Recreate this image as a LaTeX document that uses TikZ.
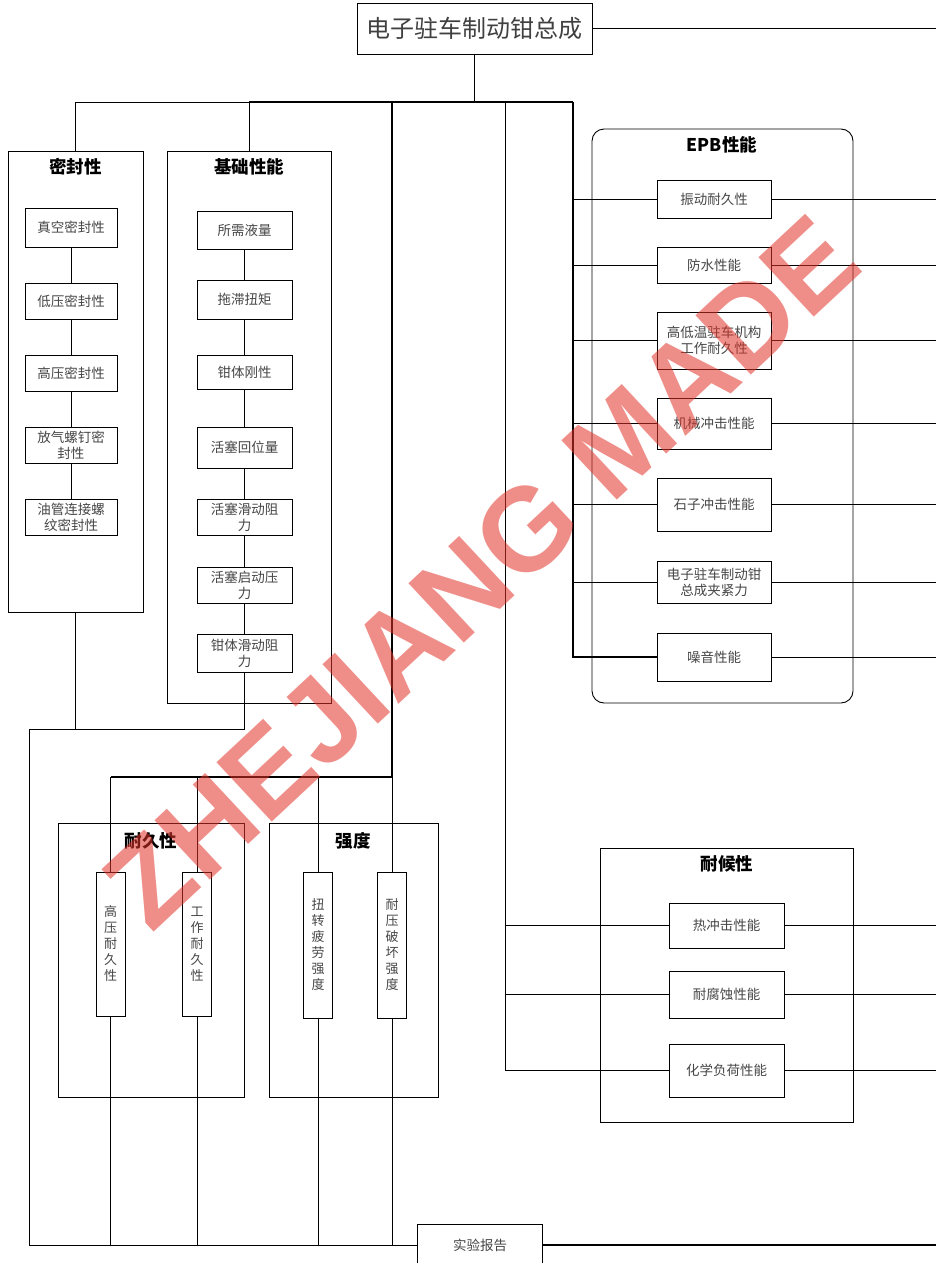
\documentclass[tikz,border=0pt]{standalone}
\usepackage{fontspec}
\usepackage{xcolor}
\usepackage{tikz}
\usetikzlibrary{positioning, calc}
\setmainfont{Liberation Sans}
\newfontfamily\cjk{Noto Sans CJK SC}
\newfontfamily\wmfont{Liberation Sans}
\definecolor{boxtext}{RGB}{70, 70, 70}
\definecolor{markred}{RGB}{225, 50, 40}

\begin{document}
\begin{tikzpicture}[x=1pt, y=-1pt,
        item/.style={rectangle, draw, line width=0.9pt, fill=white, align=center, inner sep=1pt, text=boxtext, minimum width=92pt, font=\cjk\fontsize{13.5}{16}\selectfont},
        vitem/.style={item, minimum width=29pt, minimum height=144pt, font=\cjk\fontsize{13}{16}\selectfont},
        group/.style={rectangle, draw, line width=0.9pt},
        head/.style={font=\cjk\bfseries\fontsize{17.5}{20}\selectfont},
        line/.style={draw, line width=0.9pt},
        trunk/.style={draw, line width=1.4pt}]

        \useasboundingbox (0,0) rectangle (936,1263);

        % Groups
        \node [group, minimum width=135pt, minimum height=461pt] (seal) at (75.5,381.5) {};
        \node [head] (sealT) at (75.5,167) {密封性};
        \node [group, minimum width=164pt, minimum height=552pt] (basic) at (249,427) {};
        \node [head] (basicT) at (249,167) {基础性能};
        \node [group, rounded corners=12pt, minimum width=261pt, minimum height=574pt] (epb) at (722.5,416) {};
        \node [head] (epbT) at (722,145) {EPB性能};
        \node [group, minimum width=253pt, minimum height=274pt] (wea) at (726.5,985) {};
        \node [head] (weaT) at (727,864) {耐候性};
        \node [group, minimum width=186pt, minimum height=274pt] (dur) at (151,960) {};
        \node [head] (durT) at (151,841) {耐久性};
        \node [group, minimum width=169pt, minimum height=274pt] (str) at (353.5,960) {};
        \node [head] (strT) at (353,841) {强度};

        % Nodes
        \node [item, minimum width=235pt, minimum height=51pt, text={black!75}, font=\cjk\fontsize{24}{28}\selectfont] (asm) at (474.5,28.5) {电子驻车制动钳总成};

        \node [item, minimum height=39pt] (s1) at (71,227.5) {真空密封性};
        \node [item, minimum height=36pt] (s2) at (71,301) {低压密封性};
        \node [item, minimum height=36pt] (s3) at (71,373) {高压密封性};
        \node [item, minimum height=36pt] (s4) at (71,445) {放气螺钉密\\封性};
        \node [item, minimum height=36pt] (s5) at (71,517) {油管连接螺\\纹密封性};

        \node [item, minimum width=95pt, minimum height=38pt] (b1) at (244.5,230) {所需液量};
        \node [item, minimum width=95pt, minimum height=39pt] (b2) at (244.5,299.5) {拖滞扭矩};
        \node [item, minimum width=95pt, minimum height=34pt] (b3) at (244.5,372) {钳体刚性};
        \node [item, minimum width=95pt, minimum height=41pt] (b4) at (244.5,447.5) {活塞回位量};
        \node [item, minimum width=95pt, minimum height=36pt] (b5) at (244.5,517) {活塞滑动阻\\力};
        \node [item, minimum width=95pt, minimum height=36pt] (b6) at (244.5,585) {活塞启动压\\力};
        \node [item, minimum width=95pt, minimum height=38pt] (b7) at (244.5,653) {钳体滑动阻\\力};

        \node [item, minimum width=114pt, minimum height=38pt] (e1) at (714,199) {振动耐久性};
        \node [item, minimum width=114pt, minimum height=36pt] (e2) at (714,265) {防水性能};
        \node [item, minimum width=114pt, minimum height=57pt] (e3) at (714,340.5) {高低温驻车机构\\工作耐久性};
        \node [item, minimum width=114pt, minimum height=51pt] (e4) at (714,423.5) {机械冲击性能};
        \node [item, minimum width=114pt, minimum height=53pt] (e5) at (714,504.5) {石子冲击性能};
        \node [item, minimum width=114pt, minimum height=42pt] (e6) at (714,582) {电子驻车制动钳\\总成夹紧力};
        \node [item, minimum width=114pt, minimum height=48pt] (e7) at (714,657) {噪音性能};

        \node [item, minimum width=115pt, minimum height=45pt] (w1) at (726.5,925.5) {热冲击性能};
        \node [item, minimum width=115pt, minimum height=47pt] (w2) at (726.5,994.5) {耐腐蚀性能};
        \node [item, minimum width=115pt, minimum height=53pt] (w3) at (726.5,1070.5) {化学负荷性能};

        \node [vitem] (d1) at (110.5,944) {高\\压\\耐\\久\\性};
        \node [vitem] (d2) at (197,944) {工\\作\\耐\\久\\性};
        \node [vitem, minimum height=146pt] (t1) at (318,945) {扭\\转\\疲\\劳\\强\\度};
        \node [vitem, minimum height=146pt] (t2) at (392,945) {耐\\压\\破\\坏\\强\\度};

        \node [item, minimum width=125pt, minimum height=42pt] (rep) at (480,1245) {实验报告};

        % Junctions
        \coordinate (rEdge) at (936,0);
        \coordinate (jTop) at (474.5,102);
        \coordinate (jL) at (75.5,102);
        \coordinate (jB) at (249,102);
        \coordinate (jM) at (392,102);
        \coordinate (jW) at (505,102);
        \coordinate (jE) at (573,102);
        \coordinate (jK) at (29,729);
        \coordinate (jMd) at (392,777);
        \coordinate (jDl) at (110.5,777);

        % Lines
        \path [line] (asm.east) -- (asm.east -| rEdge);
        \path [trunk] (asm.south) -- (jTop);
        \path [line] (jL) -- (jB);
        \path [trunk] (jB) -- (jE);
        \path [line] (jL) -- (seal.north);
        \path [line] (jB) -- (basic.north);

        \path [line] (s1) -- (s2);
        \path [line] (s2) -- (s3);
        \path [line] (s3) -- (s4);
        \path [line] (s4) -- (s5);
        \path [line] (b1) -- (b2);
        \path [line] (b2) -- (b3);
        \path [line] (b3) -- (b4);
        \path [line] (b4) -- (b5);
        \path [line] (b5) -- (b6);
        \path [line] (b6) -- (b7);

        \path [line] (seal.south) |- (jK);
        \path [line] (b7.south) |- (jK);
        \path [line] (jK) |- (rep.west);

        \path [trunk] (jM) -- (jMd);
        \path [trunk] (jMd) -- (jDl);
        \path [line] (jDl) -- (d1.north);
        \path [line] (d2.north |- jMd) -- (d2.north);
        \path [line] (t1.north |- jMd) -- (t1.north);
        \path [line] (jMd) -- (t2.north);
        \path [line] (d1.south) -- (d1.south |- rep.west);
        \path [line] (d2.south) -- (d2.south |- rep.west);
        \path [line] (t1.south) -- (t1.south |- rep.west);
        \path [line] (t2.south) -- (t2.south |- rep.west);
        \path [trunk] (rep.east) -- (rep.east -| rEdge);

        \path [trunk] (jE) |- (e7.west);
        \path [line] (jE |- e1.west) -- (e1.west);
        \path [line] (jE |- e2.west) -- (e2.west);
        \path [line] (jE |- e3.west) -- (e3.west);
        \path [line] (jE |- e4.west) -- (e4.west);
        \path [line] (jE |- e5.west) -- (e5.west);
        \path [line] (jE |- e6.west) -- (e6.west);
        \path [line] (e1.east) -- (e1.east -| rEdge);
        \path [line] (e2.east) -- (e2.east -| rEdge);
        \path [line] (e3.east) -- (e3.east -| rEdge);
        \path [line] (e4.east) -- (e4.east -| rEdge);
        \path [line] (e5.east) -- (e5.east -| rEdge);
        \path [line] (e6.east) -- (e6.east -| rEdge);
        \path [line] (e7.east) -- (e7.east -| rEdge);

        \path [line] (jW) |- (w3.west);
        \path [line] (jW |- w1.west) -- (w1.west);
        \path [line] (jW |- w2.west) -- (w2.west);
        \path [line] (w1.east) -- (w1.east -| rEdge);
        \path [line] (w2.east) -- (w2.east -| rEdge);
        \path [line] (w3.east) -- (w3.east -| rEdge);

        % Labels
        \node [rotate=43, text=markred, text opacity=0.55, font=\wmfont\bfseries\fontsize{118}{118}\selectfont] (mark) at (481,572) {ZHEJIANG MADE};
    \end{tikzpicture}
\end{document}
